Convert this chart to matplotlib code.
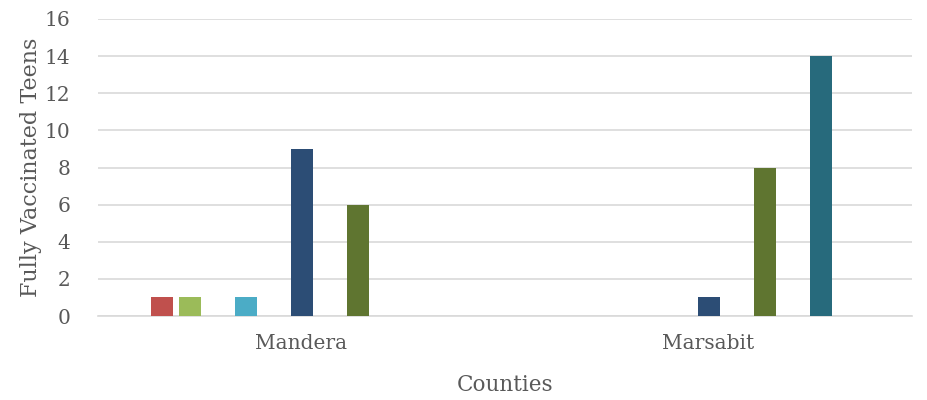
import numpy as np
import matplotlib.pyplot as plt

counties = ["Mandera", "Marsabit"]
series_names = ["S1", "S2", "S3", "S4", "S5", "S6", "S7", "S8", "S9", "S10", "S11"]
mandera = [1, 1, 0, 1, 0, 9, 0, 6, 0, 0, 0]
marsabit = [0, 0, 0, 0, 0, 1, 0, 8, 0, 14, 0]
colors = ["#C0504D", "#9BBB59", "#8064A2", "#4BACC6", "#F79646",
          "#2C4D75", "#772C2A", "#5F7530", "#4D3B62", "#276A7C", "#B65708"]

plt.rcParams['font.family'] = ['DejaVu Serif']
text_c = "#595959"

fig = plt.figure(figsize=(9.28, 4), dpi=100)
ax = fig.add_axes([98 / 928, 84 / 400, 814 / 928, 297 / 400])

n = len(series_names)
pitch = 28 / 407
width = 22 / 407
x = np.arange(len(counties))
for i in range(n):
    vals = [mandera[i], marsabit[i]]
    ax.bar(x + (i - (n - 1) / 2) * pitch, vals, width=width, color=colors[i],
           label=series_names[i], zorder=3)

ax.set_xlim(-0.5, 1.5)
ax.set_ylim(0, 16)
ax.set_yticks(range(0, 17, 2))
ax.set_xticks(x)
ax.set_xticklabels(counties)
ax.yaxis.grid(True, color="#D9D9D9", linewidth=1.2, zorder=0)
for s in ["top", "right", "left"]:
    ax.spines[s].set_visible(False)
ax.spines["bottom"].set_color("#D9D9D9")
ax.spines["bottom"].set_linewidth(1.2)
ax.tick_params(length=0, labelsize=14.5, labelcolor=text_c)
ax.tick_params(axis="x", pad=13)
ax.tick_params(axis="y", pad=20)
ax.set_xlabel("Counties", fontsize=15.5, color=text_c, labelpad=15)
ax.set_ylabel("Fully Vaccinated Teens", fontsize=16, color=text_c, labelpad=2)

fig.savefig("out.png", dpi=100)
